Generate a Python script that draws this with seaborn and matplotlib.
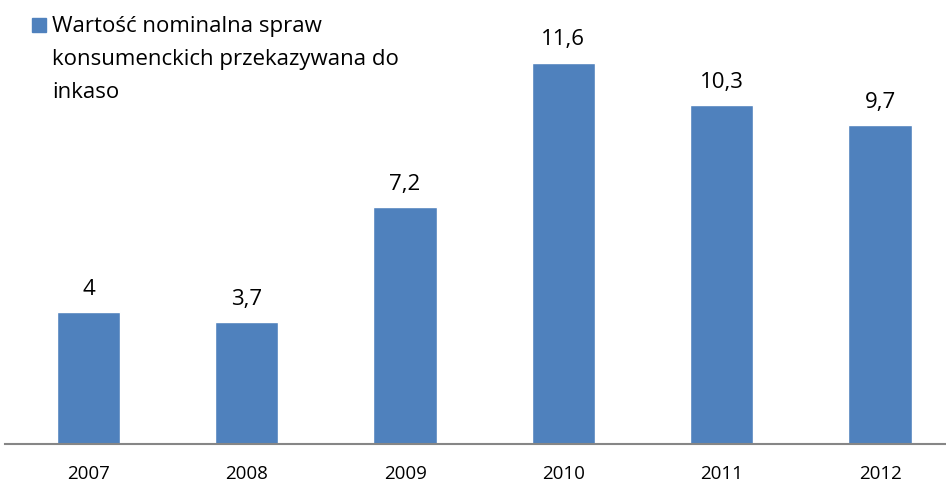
import matplotlib
matplotlib.use("Agg")
import seaborn as sns
import matplotlib.pyplot as plt
from matplotlib.patches import Patch, Rectangle
from matplotlib.legend_handler import HandlerPatch

years = ["2007", "2008", "2009", "2010", "2011", "2012"]
values = [4.0, 3.7, 7.2, 11.6, 10.3, 9.7]
labels = ["4", "3,7", "7,2", "11,6", "10,3", "9,7"]
series = "Wartość nominalna spraw\nkonsumenckich przekazywana do\ninkaso"
blue = "#4F81BD"

sns.set_style("white")
plt.rcParams['font.family'] = ['Open Sans', 'DejaVu Sans']
plt.rcParams['text.color'] = 'black'
plt.rcParams['xtick.color'] = 'black'

fig = plt.figure(figsize=(9.46, 4.82), dpi=100)
ax = fig.add_axes([5 / 946, 38 / 482, 941 / 946, 434 / 482])

sns.barplot(x=years, y=values, color=blue, width=0.4, saturation=1, ax=ax)
ax.bar_label(ax.containers[0], labels=labels, padding=9, fontsize=16, color="black")

# category step in reference ~158.3 px, first centre at 88.5 px
step = 158.3
ax.set_xlim(-(88.5 - 5) / step, (946 - 88.5) / step)
ax.set_ylim(0, 13.2)
ax.set_yticks([])
for s in ["top", "right", "left"]:
    ax.spines[s].set_visible(False)
ax.spines["bottom"].set_color("#868686")
ax.spines["bottom"].set_linewidth(1.5)
ax.tick_params(axis="x", length=0, labelsize=13.5, pad=15, labelcolor="black")
ax.set_xlabel("")


def top_square(legend, orig_handle, xdescent, ydescent, width, height, fontsize):
    # put the square next to the first line of the label
    return Rectangle((-xdescent, -ydescent + 25), width, width)


leg = ax.legend(handles=[Patch(color=blue, label=series)], loc="upper left",
                bbox_to_anchor=(32 / 946, 1 - 16 / 482), bbox_transform=fig.transFigure,
                frameon=False, fontsize=16, borderpad=0, borderaxespad=0,
                handlelength=0.63, handleheight=0.63, handletextpad=0.27,
                handler_map={Patch: HandlerPatch(patch_func=top_square)})
leg.get_texts()[0].set_linespacing(1.75)
leg.get_texts()[0].set_color("black")

fig.savefig("out.png", dpi=100)
